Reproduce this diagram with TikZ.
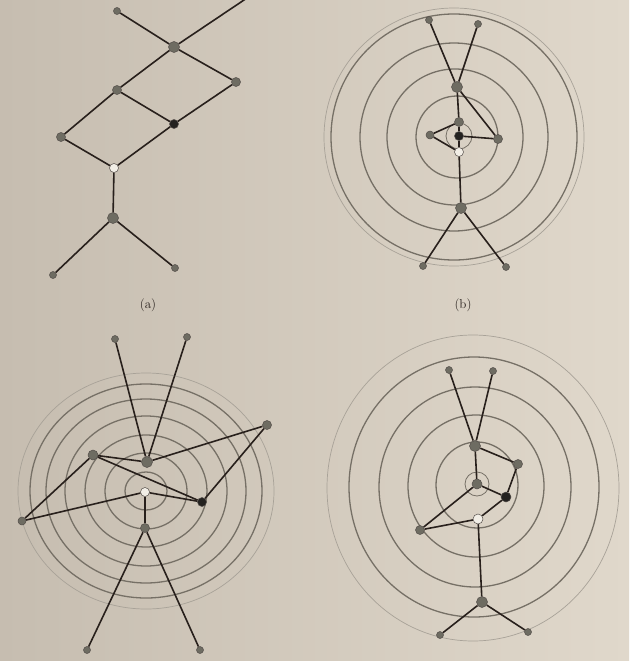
\documentclass[tikz,border=0pt]{standalone}
\usepackage{tikz}
\usepackage{xcolor}
\definecolor{paper}{RGB}{224,216,203}
\definecolor{paperdark}{RGB}{198,189,176}
\definecolor{inkline}{RGB}{40,32,28}
\definecolor{ringgray}{RGB}{118,112,102}
\definecolor{ringlight}{RGB}{168,162,152}
\definecolor{nodegray}{RGB}{110,108,98}
\definecolor{nodedark}{RGB}{36,34,32}
\definecolor{nodewhite}{RGB}{242,238,230}
\tikzset{
  leaf/.style={circle,draw=inkline!80,fill=nodegray,inner sep=0pt,
               minimum size=7pt,line width=0.5pt},
  vtx/.style={circle,draw=inkline!80,fill=nodegray,inner sep=0pt,
              minimum size=9pt,line width=0.5pt},
  hub/.style={vtx,minimum size=11pt},
  dvtx/.style={vtx,fill=nodedark},
  wvtx/.style={vtx,fill=nodewhite},
  link/.style={draw=inkline,line width=1.6pt},
  ring/.style={draw=ringgray,line width=1.3pt},
  outring/.style={draw=ringlight,line width=0.7pt},
  caption/.style={font=\fontsize{13}{15}\selectfont,text=inkline},
}
\begin{document}
\begin{tikzpicture}[x=1pt,y=-1pt]
        \useasboundingbox (0,0) rectangle (629,661);
        \clip (0,0) rectangle (629,661);
        \shade[left color=paperdark,right color=paper] (0,0) rectangle (629,661);
        % rings (b)
        \draw[outring] (454,137) circle [x radius=130pt,y radius=129pt];
        \draw[ring] (454,137) circle [radius=123pt];
        \draw[ring] (454,137) circle [radius=94pt];
        \draw[ring] (455,137) circle [radius=68pt];
        \draw[ring] (457,137) circle [radius=41pt];
        \draw[ring,line width=0.8pt] (459,136) circle [radius=13pt];
        % rings (c)
        \draw[outring] (146,491) circle [x radius=128pt,y radius=118pt];
        \draw[ring] (146,491) circle [x radius=116pt,y radius=107pt];
        \draw[ring] (146,491) circle [x radius=100pt,y radius=92pt];
        \draw[ring] (146,491) circle [x radius=81pt,y radius=75pt];
        \draw[ring] (146,491) circle [x radius=61pt,y radius=56pt];
        \draw[ring] (146,491) circle [x radius=41pt,y radius=38pt];
        \draw[ring] (146,491) circle [x radius=21pt,y radius=19pt];
        % rings (d)
        \draw[outring] (473,488) circle [x radius=146pt,y radius=153pt];
        \draw[ring] (474,487) circle [x radius=125pt,y radius=130pt];
        \draw[ring] (475,487) circle [x radius=96pt,y radius=100pt];
        \draw[ring] (476,486) circle [x radius=68pt,y radius=71pt];
        \draw[ring] (477,485) circle [x radius=41pt,y radius=43pt];
        \draw[ring,line width=0.8pt] (477,484) circle [radius=12pt];
        % (a)
        \node[leaf] (aL1) at (117,11) {};
        \coordinate (aL2) at (250,-4);
        \node[hub] (aH) at (174,47) {};
        \node[vtx] (aR) at (236,82) {};
        \node[vtx] (aM) at (117,90) {};
        \node[dvtx] (aD) at (174,124) {};
        \node[vtx] (aLf) at (61,137) {};
        \node[wvtx] (aW) at (114,168) {};
        \node[hub] (aH2) at (113,218) {};
        \node[leaf] (aB1) at (53,275) {};
        \node[leaf] (aB2) at (175,268) {};
        \node[caption] (capa) at (148,305) {(a)};
        % (b)
        \node[leaf] (bL1) at (429,20) {};
        \node[leaf] (bL2) at (478,24) {};
        \node[hub] (bH) at (457,87) {};
        \node[vtx] (bM) at (459,122) {};
        \node[vtx,minimum size=8pt] (bLf) at (430,135) {};
        \node[dvtx] (bD) at (459,136) {};
        \node[vtx] (bR) at (498,139) {};
        \node[wvtx] (bW) at (459,152) {};
        \node[hub] (bH2) at (461,208) {};
        \node[leaf] (bB1) at (423,266) {};
        \node[leaf] (bB2) at (506,267) {};
        \node[caption] (capb) at (463,305) {(b)};
        % (c)
        \node[leaf] (cL1) at (115,339) {};
        \node[leaf] (cL2) at (187,337) {};
        \node[hub] (cH) at (147,462) {};
        \node[vtx] (cR) at (267,425) {};
        \node[hub,minimum size=10pt] (cM) at (93,455) {};
        \node[dvtx] (cD) at (202,502) {};
        \node[vtx,minimum size=8pt] (cLf) at (22,521) {};
        \node[wvtx] (cW) at (145,492) {};
        \node[vtx] (cH2) at (145,528) {};
        \node[leaf] (cB1) at (87,650) {};
        \node[leaf] (cB2) at (200,650) {};
        % (d)
        \node[leaf] (dL1) at (449,370) {};
        \node[leaf] (dL2) at (493,371) {};
        \node[hub] (dH) at (475,446) {};
        \node[vtx] (dR) at (518,464) {};
        \node[vtx,minimum size=10pt] (dM) at (477,484) {};
        \node[dvtx,minimum size=10pt] (dD) at (506,497) {};
        \node[wvtx,minimum size=10pt] (dW) at (478,519) {};
        \node[vtx] (dLf) at (420,530) {};
        \node[hub] (dH2) at (482,602) {};
        \node[leaf] (dB1) at (440,635) {};
        \node[leaf] (dB2) at (528,632) {};
        % edges (a)
        \draw[link] (aL1)--(aH);
        \draw[link] (aL2)--(aH);
        \draw[link] (aH)--(aR);
        \draw[link] (aH)--(aM);
        \draw[link] (aM)--(aD);
        \draw[link] (aR)--(aD);
        \draw[link] (aM)--(aLf);
        \draw[link] (aD)--(aW);
        \draw[link] (aLf)--(aW);
        \draw[link] (aW)--(aH2);
        \draw[link] (aH2)--(aB1);
        \draw[link] (aH2)--(aB2);
        % edges (b)
        \draw[link] (bL1)--(bH);
        \draw[link] (bL2)--(bH);
        \draw[link] (bH)--(bR);
        \draw[link] (bH)--(bM);
        \draw[link] (bM)--(bD);
        \draw[link] (bR)--(bD);
        \draw[link] (bM)--(bLf);
        \draw[link] (bD)--(bW);
        \draw[link] (bLf)--(bW);
        \draw[link] (bW)--(bH2);
        \draw[link] (bH2)--(bB1);
        \draw[link] (bH2)--(bB2);
        % edges (c)
        \draw[link] (cL1)--(cH);
        \draw[link] (cL2)--(cH);
        \draw[link] (cH)--(cR);
        \draw[link] (cH)--(cM);
        \draw[link] (cM)--(cD);
        \draw[link] (cR)--(cD);
        \draw[link] (cM)--(cLf);
        \draw[link] (cD)--(cW);
        \draw[link] (cLf)--(cW);
        \draw[link] (cW)--(cH2);
        \draw[link] (cH2)--(cB1);
        \draw[link] (cH2)--(cB2);
        % edges (d)
        \draw[link] (dL1)--(dH);
        \draw[link] (dL2)--(dH);
        \draw[link] (dH)--(dR);
        \draw[link] (dH)--(dM);
        \draw[link] (dM)--(dD);
        \draw[link] (dR)--(dD);
        \draw[link] (dM)--(dLf);
        \draw[link] (dD)--(dW);
        \draw[link] (dLf)--(dW);
        \draw[link] (dW)--(dH2);
        \draw[link] (dH2)--(dB1);
        \draw[link] (dH2)--(dB2);
      \end{tikzpicture}
\end{document}
